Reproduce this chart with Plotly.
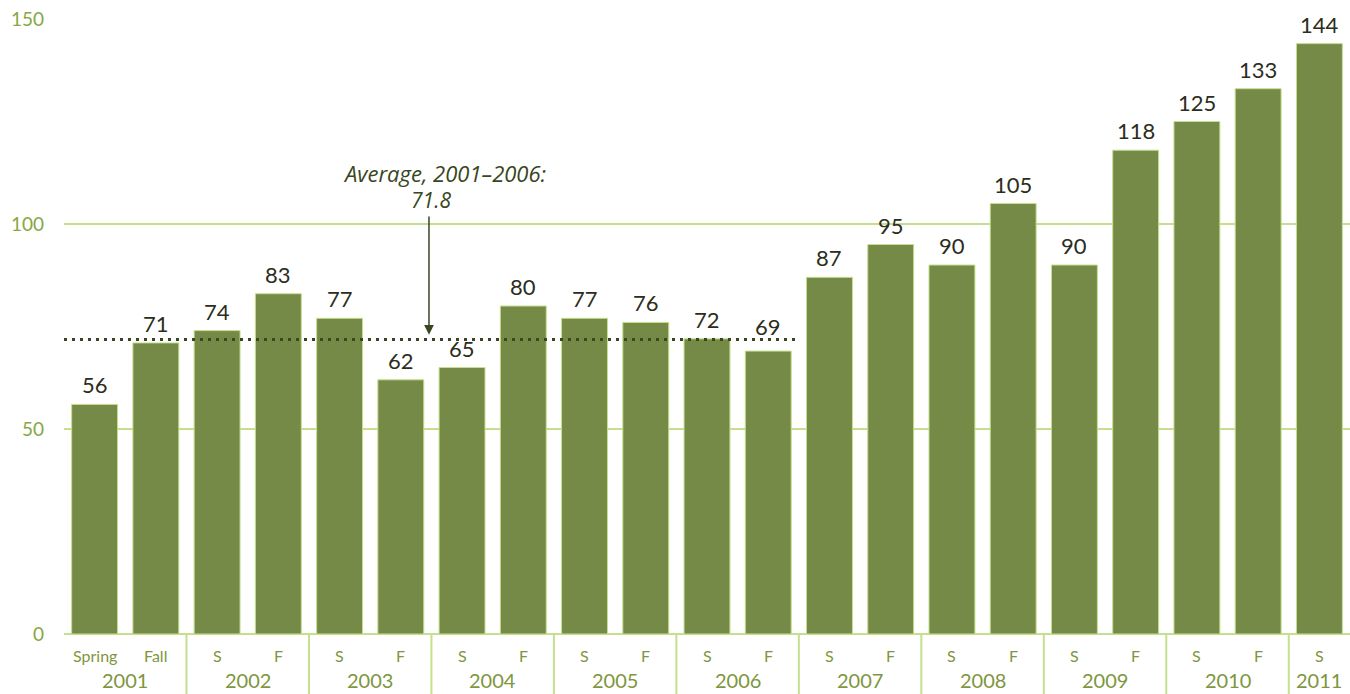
import plotly.graph_objects as go

seasons = ["Spring", "Fall", "S", "F", "S", "F", "S", "F", "S", "F", "S", "F",
           "S", "F", "S", "F", "S", "F", "S", "F", "S"]
years = ["2001", "2002", "2003", "2004", "2005", "2006", "2007", "2008", "2009", "2010", "2011"]
values = [56, 71, 74, 83, 77, 62, 65, 80, 77, 76, 72, 69, 87, 95, 90, 105, 90, 118, 125, 133, 144]
average_value = 71.8
average_title = "Average, 2001–2006:"
average_text = "71.8"
y_ticks = [0, 50, 100, 150]

x = list(range(len(values)))

BAR = "#768A48"
LIGHT = "#C6DF8E"
DARK = "#3A4622"
TICK = "#86A743"
FONT = "Lato"

fig = go.Figure()
fig.add_trace(go.Bar(
    x=x, y=values,
    marker=dict(color=BAR, line=dict(color=LIGHT, width=1)),
    cliponaxis=False,
    width=0.75,
    hoverinfo="x+y",
))

shapes = []
for i in range(1, len(values) - 1, 2):
    shapes.append(dict(type="line", xref="x", yref="paper", x0=i + 0.5, x1=i + 0.5,
                       y0=0, y1=-0.1, line=dict(color=LIGHT, width=2)))
shapes.append(dict(type="line", xref="x", yref="y", x0=-0.5, x1=11.49,
                   y0=average_value, y1=average_value,
                   line=dict(color=DARK, width=3, dash="3px,5px")))

annotations = []
for i, v in enumerate(values):
    # label of the bar just under the average line is lifted clear of the dotted line
    shift = 9 if i == 11 else 4
    annotations.append(dict(x=i, y=v, xref="x", yref="y", text=str(v), showarrow=False,
                            yanchor="bottom", yshift=shift,
                            font=dict(family=FONT, size=22, color="#2B2D20")))
for i, s in enumerate(seasons):
    annotations.append(dict(x=i, y=0, xref="x", yref="paper", text=s, showarrow=False,
                            yshift=-21, yanchor="middle",
                            font=dict(family=FONT, size=16, color="#7E963E")))
for j, yr in enumerate(years):
    xc = 2 * j + 0.5 if j < len(years) - 1 else 2 * j
    annotations.append(dict(x=xc, y=0, xref="x", yref="paper", text=yr, showarrow=False,
                            yshift=-46, yanchor="middle",
                            font=dict(family=FONT, size=20, color="#7E963E")))
annotations.append(dict(x=5.46, y=73.0, xref="x", yref="y", ax=5.46, ay=102.2, axref="x", ayref="y",
                        text="", showarrow=True, arrowhead=2, arrowsize=1.3, arrowwidth=1.5,
                        arrowcolor=DARK))
annotations.append(dict(x=5.72, y=112.4, xref="x", yref="y", text="<i>" + average_title + "</i>",
                        showarrow=False, yanchor="middle",
                        font=dict(family="Open Sans", size=22, color=DARK)))
annotations.append(dict(x=5.5, y=105.9, xref="x", yref="y", text="<i>" + average_text + "</i>",
                        showarrow=False, yanchor="middle",
                        font=dict(family="Open Sans", size=21, color=DARK)))

fig.update_layout(
    width=1350, height=694,
    margin=dict(l=64, r=0, t=19, b=60),
    paper_bgcolor="white", plot_bgcolor="white",
    showlegend=False,
    bargap=0.25,
    shapes=shapes,
    annotations=annotations,
    xaxis=dict(range=[-0.5, len(values) - 0.5], showticklabels=False, showgrid=False,
               zeroline=False, showline=False, ticks=""),
    yaxis=dict(range=[0, 150], tickvals=y_ticks, showgrid=True, gridcolor=LIGHT, gridwidth=2,
               zeroline=True, zerolinecolor=LIGHT, zerolinewidth=2, showline=False,
               tickfont=dict(family=FONT, size=19, color=TICK), ticklabelstandoff=19),
)

fig.write_html("out.html", config={"displayModeBar": False},
               post_script="document.body.style.margin='0';document.body.style.overflow='hidden';")
